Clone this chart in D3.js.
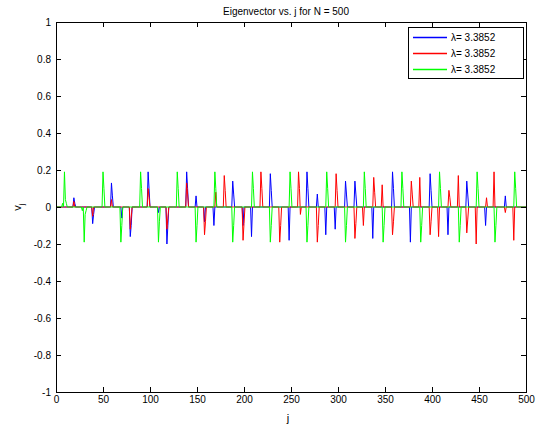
<!DOCTYPE html>
<html>
<head>
<meta charset="utf-8">
<script src="https://d3js.org/d3.v7.min.js"></script>
<style>
  body { margin: 0; background: #fff; }
  svg { display: block; font-family: "Liberation Sans", Arial, sans-serif; }
</style>
</head>
<body>
<svg width="536" height="427"></svg>
<script>
// N = 500. Only the non zero points are listed
// as [j, v]; every other j is 0.
let N = 500
let xTicks = [0, 50, 100, 150, 200, 250, 300, 350, 400, 450, 500]
let yTicks = [-1, -0.8, -0.6, -0.4, -0.2, 0, 0.2, 0.4, 0.6, 0.8, 1]
let legendLabels = ["\u03bb= 3.3852", "\u03bb= 3.3852", "\u03bb= 3.3852"]
let colors = ["#0000ff", "#ff0000", "#00ff00"]

let blue = [
  [19, 0.05], [20, 0.02], [39, -0.09], [40, -0.04], [59, 0.13], [60, 0.06],
  [70, -0.06], [79, -0.16], [80, -0.1], [98, 0.19], [99, 0.1], [109, -0.03],
  [118, -0.2], [119, -0.1], [139, 0.19], [140, 0.1], [149, 0.06], [158, -0.08],
  [168, -0.1], [188, 0.14], [189, 0.07], [199, -0.1], [208, -0.16],
  [228, 0.18], [229, 0.09], [248, -0.18], [267, 0.19], [268, 0.1], [278, 0.07],
  [287, -0.15], [297, -0.12], [308, 0.14], [309, 0.07], [318, 0.14], [319, 0.07],
  [337, -0.17], [358, 0.19], [359, 0.1], [377, -0.19], [398, 0.18], [399, 0.09],
  [417, -0.15], [437, 0.14], [438, 0.07], [457, -0.1], [478, 0.06]
]

let red = [
  [19, 0.03], [39, -0.05], [59, 0.04], [79, -0.12], [80, -0.06], [98, 0.1], [99, 0.05],
  [118, -0.12], [119, -0.06], [139, 0.13], [140, 0.07], [158, -0.15], [159, -0.08],
  [170, 0.08], [179, 0.17], [180, 0.09], [199, -0.18], [200, -0.09],
  [218, 0.19], [219, 0.1], [238, -0.19], [239, -0.1], [258, 0.19], [259, 0.1], [260, -0.04],
  [278, -0.19], [279, -0.1], [298, 0.18], [299, 0.09], [318, -0.17], [319, -0.09],
  [327, -0.1], [338, 0.16], [339, 0.08], [347, 0.12], [358, -0.15], [359, -0.08],
  [378, 0.14], [379, 0.07], [387, 0.16], [398, -0.15], [399, -0.08], [407, -0.16],
  [418, 0.09], [419, 0.05], [428, 0.17], [437, -0.14], [438, -0.07], [447, -0.2],
  [458, 0.05], [466, 0.19], [478, -0.03], [487, -0.18]
]

let green = [
  [7, 0.02], [9, 0.19], [10, 0.04], [11, 0.02], [28, -0.02], [30, -0.19], [31, -0.04], [32, -0.02],
  [50, 0.19], [51, 0.1], [69, -0.19], [70, -0.1], [90, 0.19], [91, 0.1],
  [109, -0.19], [110, -0.08], [129, 0.19], [130, 0.1], [149, -0.19], [150, -0.1],
  [169, 0.19], [170, 0.1], [188, -0.19], [189, -0.1], [209, 0.19], [210, 0.1],
  [228, -0.19], [229, -0.1], [249, 0.19], [250, 0.1], [267, -0.19], [268, -0.1],
  [288, 0.19], [289, 0.1], [308, -0.19], [309, -0.1], [328, 0.19], [329, 0.1],
  [348, -0.19], [349, -0.1], [368, 0.19], [369, 0.1], [388, -0.19], [389, -0.1],
  [408, 0.19], [409, 0.1], [429, -0.19], [430, -0.1], [448, 0.19], [449, 0.1],
  [467, -0.19], [468, -0.1], [488, 0.19], [489, 0.1]
]

// fill in the zeros so each series has all N points
function fullSeries(sparse) {
  let vals = new Map(sparse)
  let out = []
  for (let j = 1; j <= N; j++) out.push({ j: j, v: vals.has(j) ? vals.get(j) : 0 })
  return out
}
let series = [blue, red, green].map(fullSeries)

let svg = d3.select("svg")
let pLeft = 56, pRight = 526, pTop = 22, pBottom = 392

let x = d3.scaleLinear().domain([0, 500]).range([pLeft, pRight])
let y = d3.scaleLinear().domain([-1, 1]).range([pBottom, pTop])

svg.append("rect").attr("width", 536).attr("height", 427).attr("fill", "#fff")

// lines first, frame and ticks go on top
let line = d3.line().x(d => x(d.j)).y(d => y(d.v))
svg.append("g").selectAll("path")
  .data(series)
  .enter().append("path")
    .attr("d", line)
    .attr("fill", "none")
    .attr("stroke", (d, i) => colors[i])
    .attr("stroke-width", 1)

let yFmt = d => d === 0 ? "0" : String(+d.toFixed(1))

function styleAxis(g) {
  g.select(".domain").remove()
  g.selectAll("line").attr("stroke", "#000")
  g.selectAll("text").attr("fill", "#000").attr("font-size", 10)
    .attr("font-family", "Liberation Sans, Arial, sans-serif")
}

svg.append("g").attr("transform", `translate(0,${pBottom})`)
  .call(d3.axisBottom(x).tickValues(xTicks).tickSize(-5).tickPadding(4))
  .call(styleAxis)
svg.append("g").attr("transform", `translate(0,${pTop})`)
  .call(d3.axisTop(x).tickValues(xTicks).tickSize(-5).tickFormat(""))
  .call(styleAxis)
svg.append("g").attr("transform", `translate(${pLeft},0)`)
  .call(d3.axisLeft(y).tickValues(yTicks).tickSize(-5).tickPadding(5).tickFormat(yFmt))
  .call(styleAxis)
svg.append("g").attr("transform", `translate(${pRight},0)`)
  .call(d3.axisRight(y).tickValues(yTicks).tickSize(-5).tickFormat(""))
  .call(styleAxis)

svg.append("rect")
  .attr("x", pLeft + 0.5).attr("y", pTop + 0.5)
  .attr("width", pRight - pLeft).attr("height", pBottom - pTop)
  .attr("fill", "none").attr("stroke", "#000")

// title and axis labels
svg.append("text").attr("x", 286).attr("y", 15).attr("text-anchor", "middle")
  .attr("font-size", 10).attr("fill", "#000").text("Eigenvector vs. j for N = 500")
svg.append("text").attr("x", 288).attr("y", 422).attr("text-anchor", "middle")
  .attr("font-size", 11).attr("fill", "#000").text("j")
let ylab = svg.append("text").attr("transform", "translate(21,207) rotate(-90)")
  .attr("text-anchor", "middle").attr("font-size", 11).attr("fill", "#000")
ylab.append("tspan").text("v")
ylab.append("tspan").attr("dy", 3).attr("font-size", 8).text("j")

// legend
let lg = svg.append("g").attr("transform", "translate(408,27)")
lg.append("rect").attr("x", 0.5).attr("y", 0.5).attr("width", 115).attr("height", 51)
  .attr("fill", "#fff").attr("stroke", "#000")
legendLabels.forEach(function(lab, i) {
  let yy = 10 + i * 16
  lg.append("line").attr("x1", 5).attr("x2", 39).attr("y1", yy + 0.5).attr("y2", yy + 0.5)
    .attr("stroke", colors[i]).attr("stroke-width", 1.3)
  lg.append("text").attr("x", 43).attr("y", yy + 4).attr("font-size", 10)
    .attr("fill", "#000").text(lab)
})
</script>
</body>
</html>
